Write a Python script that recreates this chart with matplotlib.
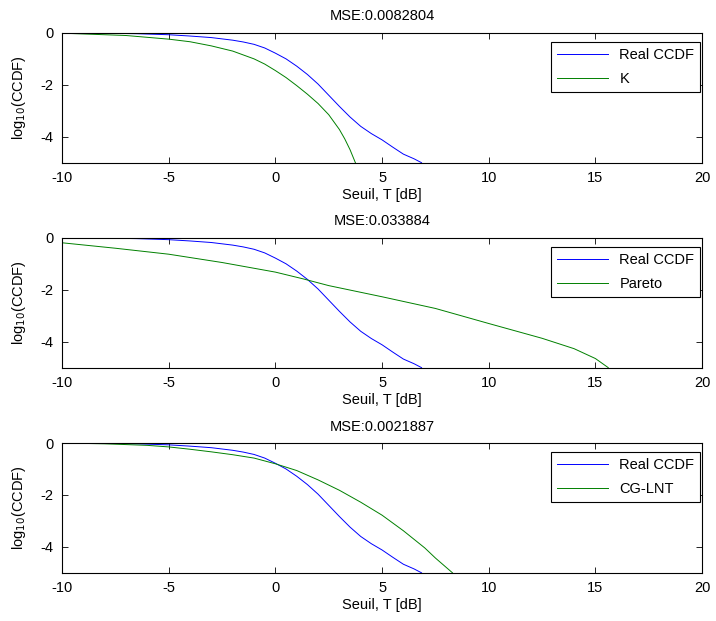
import matplotlib
matplotlib.use("Agg")
import matplotlib.pyplot as plt

# Real CCDF (shared by all panels)
real_x = [-10, -8, -6.5, -5, -4, -3, -2, -1.5, -1, -0.5, 0, 0.5, 1, 1.5, 2, 2.5, 3,
          3.5, 4, 4.5, 5, 5.5, 6, 6.5, 6.85]
real_y = [0, -0.01, -0.03, -0.07, -0.12, -0.18, -0.28, -0.35, -0.44, -0.58, -0.78,
          -1.0, -1.28, -1.6, -1.97, -2.4, -2.83, -3.24, -3.6, -3.88, -4.12, -4.4,
          -4.67, -4.85, -5.0]

k_x = [-10, -9, -7, -5, -4, -3, -2, -1, -0.5, 0, 0.5, 1, 1.5, 2, 2.5, 3, 3.25,
       3.5, 3.75]
k_y = [-0.01, -0.04, -0.1, -0.24, -0.34, -0.5, -0.7, -1.0, -1.2, -1.45, -1.72,
       -2.03, -2.36, -2.72, -3.15, -3.72, -4.08, -4.5, -5.0]

pareto_x = [-10, -7.5, -5, -2.5, 0, 1.3, 2.5, 5, 7.5, 10, 12.5, 14, 15, 15.6]
pareto_y = [-0.19, -0.4, -0.63, -0.95, -1.32, -1.58, -1.84, -2.27, -2.72, -3.3,
            -3.87, -4.27, -4.65, -5.0]

cg_x = [-10, -8, -6, -5, -4, -3, -2, -1, 0, 1, 2, 3, 4, 5, 6, 7, 7.5, 8.3]
cg_y = [0, -0.03, -0.09, -0.15, -0.24, -0.34, -0.45, -0.58, -0.8, -1.06, -1.42,
        -1.82, -2.28, -2.78, -3.38, -4.04, -4.43, -5.0]

panels = [("MSE:0.0082804", "K", k_x, k_y),
          ("MSE:0.033884", "Pareto", pareto_x, pareto_y),
          ("MSE:0.0021887", "CG-LNT", cg_x, cg_y)]

plt.rcParams["font.family"] = ["Liberation Sans", "DejaVu Sans"]
plt.rcParams["font.size"] = 10.5
plt.rcParams["axes.unicode_minus"] = False

fig = plt.figure(figsize=(7.16, 6.21), dpi=100)
tops = [0.947, 0.617, 0.2866]
h = 0.209
for (title, name, fx, fy), top in zip(panels, tops):
    ax = fig.add_axes([0.0866, top - h, 0.894, h])
    ax.plot(real_x, real_y, color=(0, 0, 1), lw=0.7, label="Real CCDF")
    ax.plot(fx, fy, color=(0, 0.5, 0), lw=0.7, label=name)
    ax.set_xlim(-10, 20); ax.set_ylim(-5, 0)
    ax.set_xticks([-10, -5, 0, 5, 10, 15, 20])
    ax.set_yticks([-4, -2, 0])
    ax.tick_params(direction="in", top=True, right=True, length=4, width=0.6, pad=6)
    for s in ax.spines.values():
        s.set_linewidth(0.8)
    ax.set_title(title, fontsize=10.5, pad=9)
    ax.set_xlabel("Seuil, T [dB]", labelpad=2)
    ax.set_ylabel("log$_{10}$(CCDF)", labelpad=9)
    leg = ax.legend(loc="upper right", bbox_to_anchor=(0.997, 0.93),
                    fancybox=False, framealpha=1, edgecolor="black",
                    handlelength=3.5, borderaxespad=0, labelspacing=0.7)
    leg.get_frame().set_linewidth(0.8)

fig.savefig("out.png", dpi=100)
